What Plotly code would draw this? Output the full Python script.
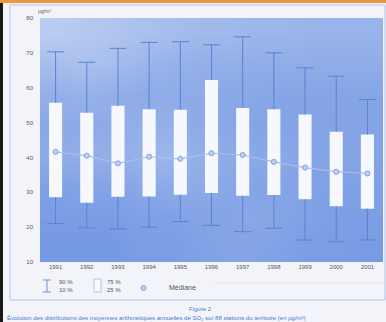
import plotly.graph_objects as go
import numpy as np

# Annual SO2 means across stations: distribution per year (µg/m³)
years = ["1991", "1992", "1993", "1994", "1995", "1996", "1997", "1998", "1999", "2000", "2001"]
p90 = [70.3, 67.3, 71.3, 73.0, 73.2, 72.3, 74.6, 70.0, 65.7, 63.3, 56.6]
p75 = [55.7, 52.8, 54.8, 53.8, 53.7, 62.2, 54.2, 53.8, 52.3, 47.4, 46.6]
median = [41.6, 40.5, 38.3, 40.2, 39.6, 41.2, 40.7, 38.7, 37.1, 35.9, 35.4]
p25 = [28.6, 27.0, 28.7, 28.8, 29.3, 29.8, 29.0, 29.2, 28.0, 26.0, 25.3]
p10 = [21.0, 19.8, 19.5, 20.0, 21.6, 20.5, 18.7, 19.7, 16.3, 15.8, 16.3]
y_ticks = [10, 20, 30, 40, 50, 60, 70, 80]

W, H = 386, 322
L, R, T, B = 40, 3, 18, 60
PW, PH = W - L - R, H - T - B

def px(x):
    return (x - L) / PW

def py(y):
    return (H - B - y) / PH

idx = list(range(len(years)))
BOX_W = 0.42
CAP = 0.27

fig = go.Figure()

# sky-like backdrop of the plotting area
sky = [
    [0.08, 0.08, 0.08, 0.12, 0.12, 0.18, 0.22, 0.22, 0.18, 0.12, 0.12, 0.10],
    [0.12, 0.12, 0.12, 0.18, 0.18, 0.22, 0.22, 0.28, 0.22, 0.18, 0.14, 0.14],
    [0.18, 0.22, 0.22, 0.28, 0.32, 0.32, 0.28, 0.22, 0.22, 0.18, 0.18, 0.18],
    [0.32, 0.38, 0.38, 0.42, 0.48, 0.38, 0.32, 0.28, 0.28, 0.22, 0.22, 0.22],
    [0.28, 0.32, 0.32, 0.38, 0.38, 0.32, 0.28, 0.22, 0.22, 0.22, 0.22, 0.22],
    [0.38, 0.42, 0.38, 0.32, 0.32, 0.32, 0.28, 0.28, 0.24, 0.24, 0.24, 0.24],
    [0.58, 0.62, 0.58, 0.48, 0.42, 0.38, 0.38, 0.34, 0.34, 0.34, 0.34, 0.34],
    [0.78, 0.72, 0.68, 0.62, 0.58, 0.52, 0.52, 0.48, 0.48, 0.44, 0.44, 0.44],
]
fig.add_trace(go.Heatmap(
    z=sky,
    x=np.linspace(-0.5, 10.5, 13),
    y=np.linspace(10, 80, 9),
    zsmooth="best",
    colorscale=[[0, "rgb(110,148,225)"], [1, "rgb(208,220,245)"]],
    zmin=0, zmax=1, showscale=False, hoverinfo="skip",
))

# 25 %-75 % boxes
fig.add_trace(go.Bar(
    x=idx,
    y=[hi - lo for hi, lo in zip(p75, p25)],
    base=p25,
    width=BOX_W,
    marker=dict(color="rgb(246,248,253)", line=dict(width=0)),
    hoverinfo="skip",
))

# 10 %-90 % whiskers with caps
wx, wy = [], []
for i in idx:
    wx += [i, i, None, i, i, None, i - CAP, i + CAP, None, i - CAP, i + CAP, None]
    wy += [p10[i], p25[i], None, p75[i], p90[i], None, p90[i], p90[i], None, p10[i], p10[i], None]
fig.add_trace(go.Scatter(
    x=wx, y=wy, mode="lines",
    line=dict(color="rgb(92,128,214)", width=1),
    hoverinfo="skip",
))

# medians
fig.add_trace(go.Scatter(
    x=idx, y=median, mode="lines+markers",
    line=dict(color="rgb(168,190,237)", width=1.2),
    marker=dict(symbol="circle", size=5, color="rgb(192,209,243)",
                line=dict(color="rgb(128,158,225)", width=1)),
    hoverinfo="skip",
))

shapes = [
    # page frame
    dict(type="rect", xref="paper", yref="paper", x0=px(10), x1=px(385), y0=py(300), y1=py(5),
         line=dict(color="rgb(175,195,232)", width=1), fillcolor="rgba(0,0,0,0)", layer="below"),
    # orange top band
    dict(type="rect", xref="paper", yref="paper", x0=px(0), x1=px(386), y0=py(3), y1=py(0),
         line=dict(width=0), fillcolor="rgb(240,150,58)"),
    # dark left edge
    dict(type="rect", xref="paper", yref="paper", x0=px(0), x1=px(3), y0=py(322), y1=py(3),
         line=dict(width=0), fillcolor="rgb(25,25,25)"),
    # separator line in legend row
    dict(type="line", xref="paper", yref="paper", x0=px(215), x1=px(385), y0=py(283), y1=py(283),
         line=dict(color="rgb(225,228,236)", width=1)),
    # legend glyph: whisker
    dict(type="line", xref="paper", yref="paper", x0=px(47), x1=px(47), y0=py(292), y1=py(280),
         line=dict(color="rgb(110,145,222)", width=1)),
    dict(type="line", xref="paper", yref="paper", x0=px(43), x1=px(51), y0=py(280), y1=py(280),
         line=dict(color="rgb(110,145,222)", width=1)),
    dict(type="line", xref="paper", yref="paper", x0=px(43), x1=px(51), y0=py(292), y1=py(292),
         line=dict(color="rgb(110,145,222)", width=1)),
    # legend glyph: box
    dict(type="rect", xref="paper", yref="paper", x0=px(94), x1=px(101), y0=py(292), y1=py(279),
         line=dict(color="rgb(175,195,235)", width=1), fillcolor="rgb(250,251,254)"),
    # legend glyph: median marker
    dict(type="circle", xref="paper", yref="paper", x0=px(141), x1=px(146), y0=py(290.5), y1=py(285.5),
         line=dict(color="rgb(128,158,225)", width=1), fillcolor="rgb(192,209,243)"),
]

text_col = "rgb(85,85,95)"
blue_txt = "rgb(70,120,215)"
ann = [
    dict(text="µg/m³", x=px(36), y=py(11), xanchor="left", yanchor="middle",
         font=dict(size=5, color=text_col)),
    dict(text="90 %", x=px(57), y=py(282), xanchor="left", yanchor="middle",
         font=dict(size=6, color=text_col)),
    dict(text="10 %", x=px(57), y=py(290), xanchor="left", yanchor="middle",
         font=dict(size=6, color=text_col)),
    dict(text="75 %", x=px(105), y=py(282), xanchor="left", yanchor="middle",
         font=dict(size=6, color=text_col)),
    dict(text="25 %", x=px(105), y=py(290), xanchor="left", yanchor="middle",
         font=dict(size=6, color=text_col)),
    dict(text="Médiane", x=px(167), y=py(287), xanchor="left", yanchor="middle",
         font=dict(size=7, color=text_col)),
    dict(text="Figure 2", x=px(200), y=py(309), xanchor="center", yanchor="middle",
         font=dict(size=6, color=blue_txt)),
    dict(text="Évolution des distributions des moyennes arithmétiques annuelles de SO₂ "
              "sur 88 stations du territoire (en µg/m³)",
         x=px(5), y=py(318), xanchor="left", yanchor="middle",
         font=dict(size=6, color=blue_txt)),
]
for a in ann:
    a.update(xref="paper", yref="paper", showarrow=False)

fig.update_layout(
    width=W, height=H,
    margin=dict(l=L, r=R, t=T, b=B, pad=0),
    paper_bgcolor="rgb(243,244,249)",
    plot_bgcolor="rgb(120,155,225)",
    showlegend=False,
    barmode="overlay",
    shapes=shapes,
    annotations=ann,
    font=dict(family="Liberation Sans, Arial, sans-serif", size=6, color=text_col),
    xaxis=dict(
        range=[-0.5, 10.5], tickmode="array", tickvals=idx, ticktext=years,
        showgrid=False, zeroline=False, showline=False, ticks="",
        tickfont=dict(size=6, color=text_col), fixedrange=True,
    ),
    yaxis=dict(
        range=[10, 80], tickmode="array", tickvals=y_ticks,
        showgrid=False, zeroline=False, showline=False, ticks="",
        tickfont=dict(size=6, color=text_col), ticklabelstandoff=6, fixedrange=True,
    ),
)

fig.write_html("out.html")
